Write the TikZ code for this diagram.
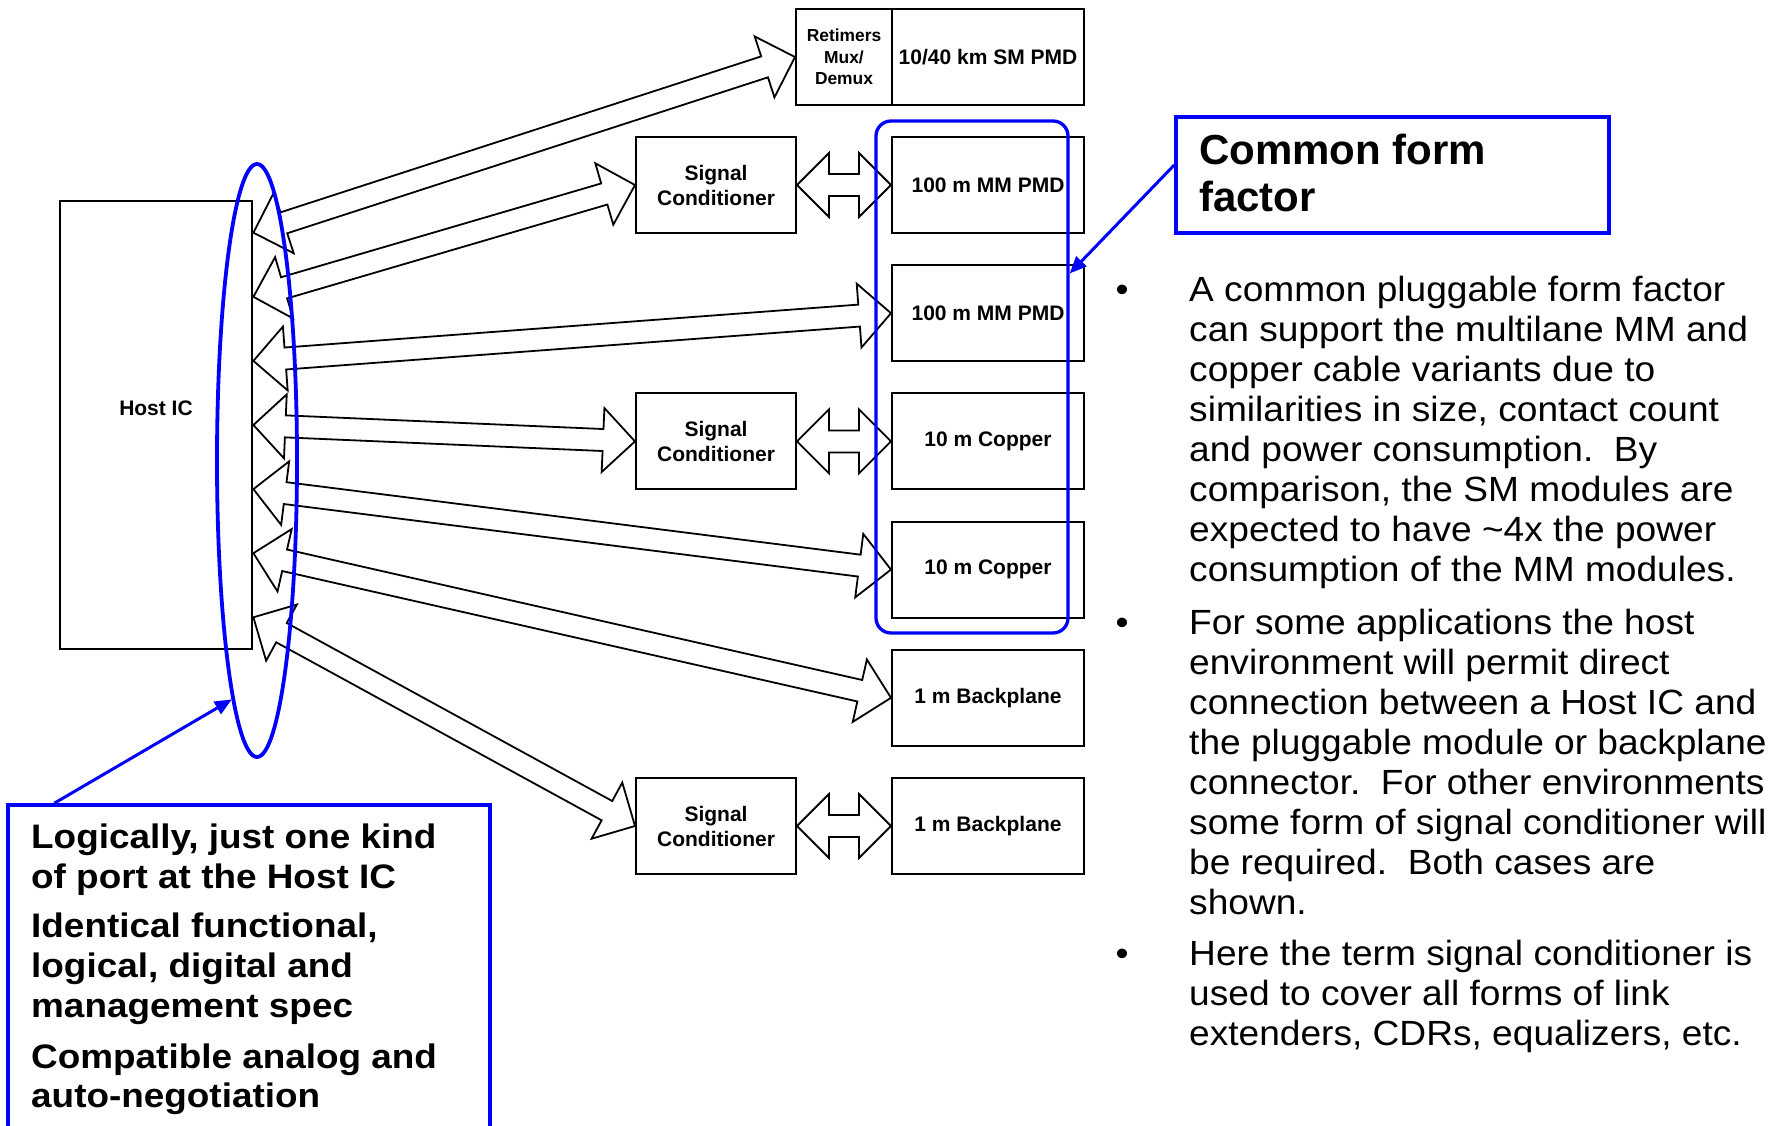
\documentclass[tikz,border=0pt]{standalone}
\usepackage{fontspec}
\setmainfont{Liberation Sans}
\newfontfamily\bodyfont[FakeStretch=1.06]{Liberation Sans}
\newfontfamily\notefont[FakeStretch=1.085]{Liberation Sans}
\usetikzlibrary{calc,shapes.geometric,arrows.meta}

\tikzset{
  unit/.style={draw, line width=2pt, fill=white, inner sep=0pt, minimum height=96pt,
    font=\bfseries\fontsize{21}{25}\selectfont, align=center},
  modbox/.style={unit, minimum width=192pt},
  condbox/.style={unit, minimum width=160pt},
  blockarr/.style={draw, fill=white, line width=1.8pt, line join=miter},
  hilite/.style={draw=blue, line width=3.3pt},
  callout/.style={blue, line width=3pt, -{Triangle[length=17pt,width=14pt]}},
  bodytext/.style={anchor=base west, inner sep=0pt, font=\bodyfont\fontsize{35}{40}\selectfont},
  notetext/.style={anchor=base west, inner sep=0pt, font=\notefont\bfseries\fontsize{34}{40}\selectfont},
}

% double-headed block arrow between two points
\newcommand{\blockarrow}[2]{%
  \coordinate (ha) at ($(#1)!32pt!(#2)$);
  \coordinate (hb) at ($(#2)!32pt!(#1)$);
  \filldraw[blockarr] (#1)
    -- ($(ha)!32pt!90:(#2)$) -- ($(ha)!11pt!90:(#2)$)
    -- ($(hb)!11pt!-90:(#1)$) -- ($(hb)!32pt!-90:(#1)$)
    -- (#2)
    -- ($(hb)!32pt!90:(#1)$) -- ($(hb)!11pt!90:(#1)$)
    -- ($(ha)!11pt!-90:(#2)$) -- ($(ha)!32pt!-90:(#2)$)
    -- cycle;}

\begin{document}
\begin{tikzpicture}[x=1pt,y=-1pt]
\useasboundingbox (0,0) rectangle (1783,1126);
\fill[white] (0,0) rectangle (1783,1126);
\clip (0,0) rectangle (1783,1126);

% host chip
\node[draw, line width=2pt, minimum width=192.4pt, minimum height=448pt, inner sep=0pt] (host) at (156.2,425) {};
\node[font=\bfseries\fontsize{21}{25}\selectfont, anchor=base, inner sep=0pt] (hostlbl) at (156,415) {Host IC};

% module column
\node[unit, minimum width=96pt, font=\bfseries\fontsize{17.4}{21.7}\selectfont] (retimer) at (844,57) {Retimers\\Mux/\\Demux};
\node[modbox] (sm) at (988,57) {10/40 km SM PMD};
\node[condbox] (sc1) at (716,185) {Signal\\Conditioner};
\node[modbox] (mm1) at (988,185) {100 m MM PMD};
\node[modbox] (mm2) at (988,313.2) {100 m MM PMD};
\node[condbox] (sc2) at (716,441.4) {Signal\\Conditioner};
\node[modbox] (cu1) at (988,441.4) {10 m Copper};
\node[modbox] (cu2) at (988,569.6) {10 m Copper};
\node[modbox] (bp1) at (988,697.8) {1 m Backplane};
\node[condbox] (sc3) at (716,826) {Signal\\Conditioner};
\node[modbox] (bp2) at (988,826) {1 m Backplane};

% host ports
\foreach \i in {1,...,7}
  \coordinate (p\i) at ($(host.east)+(0,{64.1*(\i-4)})$);

% host links
\blockarrow{p1}{retimer.west}
\blockarrow{p2}{sc1.west}
\blockarrow{p3}{mm2.west}
\blockarrow{p4}{sc2.west}
\blockarrow{p5}{cu2.west}
\blockarrow{p6}{bp1.west}
\blockarrow{p7}{sc3.west}

% conditioner to module links
\blockarrow{sc1.east}{mm1.west}
\blockarrow{sc2.east}{cu1.west}
\blockarrow{sc3.east}{bp2.west}

% highlights
\node[ellipse, hilite, line width=3.8pt, minimum width=80pt, minimum height=593pt, inner sep=0pt] (ports) at (257,460.5) {};
\node[hilite, rounded corners=15pt, minimum width=192pt, minimum height=512pt, inner sep=0pt] (formbox) at (972,377) {};

% heading callout
\node[hilite, line width=3.5pt, minimum width=433pt, minimum height=116pt, inner sep=0pt] (cff) at (1392.5,175) {};
\node[anchor=base west, inner sep=0pt, font=\bfseries\fontsize{42}{47}\selectfont] (cfft1) at (1199,165) {Common form};
\node[anchor=base west, inner sep=0pt, font=\bfseries\fontsize{42}{47}\selectfont] (cfft2) at (1199,212) {factor};
\draw[callout] ($(cff.west)+(0,-10)$) -- ($(formbox.east)+(0,-103.5)$);

% port callout
\node[hilite, line width=3.5pt, minimum width=482pt, minimum height=335pt, inner sep=0pt] (portbox) at (249,972.5) {};
\draw[callout] ($(portbox.north west)+(48,0)$) -- (ports.264);
\foreach \yy/\ntext [count=\i] in {848.7/{Logically, just one kind}, 888.2/{of port at the Host IC},
    937.5/{Identical functional,}, 977.5/{logical, digital and}, 1017/{management spec},
    1068/{Compatible analog and}, 1107.5/{auto-negotiation}}
  \node[notetext] (nl\i) at (31,\yy) {\ntext};

% bullet notes
\foreach \yy [count=\i] in {301.7,634,965}
  \node[anchor=base, inner sep=0pt, font=\bodyfont\fontsize{35}{40}\selectfont] (dot\i) at (1122,\yy) {\textbullet};
\foreach \yy/\btext [count=\i] in {
    301.7/{A common pluggable form factor},
    341.7/{can support the multilane MM and},
    381.7/{copper cable variants due to},
    421.7/{similarities in size, contact count},
    461.7/{and power consumption.\ \ By},
    501.7/{comparison, the SM modules are},
    541.7/{expected to have \textasciitilde4x the power},
    581.7/{consumption of the MM modules.},
    634/{For some applications the host},
    674.1/{environment will permit direct},
    714.2/{connection between a Host IC and},
    754.3/{the pluggable module or backplane},
    794.4/{connector.\ \ For other environments},
    834.5/{some form of signal conditioner will},
    874.6/{be required.\ \ Both cases are},
    914.7/{shown.},
    965/{Here the term signal conditioner is},
    1005/{used to cover all forms of link},
    1045/{extenders, CDRs, equalizers, etc.}}
  \node[bodytext] (bt\i) at (1189,\yy) {\btext};
\end{tikzpicture}
\end{document}
